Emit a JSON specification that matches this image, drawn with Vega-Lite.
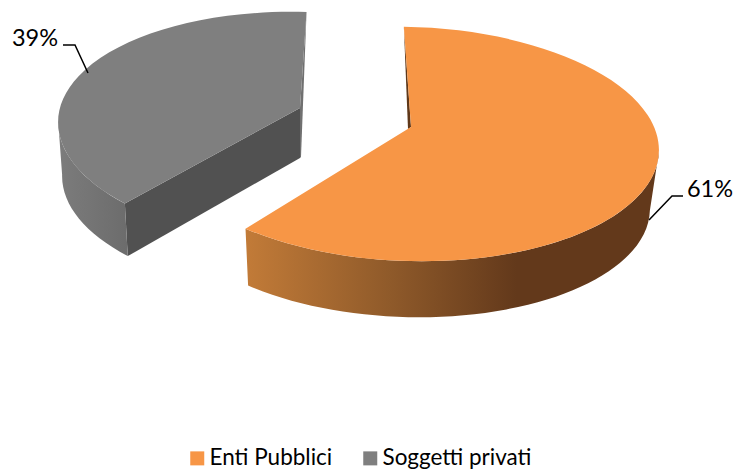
{
"$schema":"https://vega.github.io/schema/vega-lite/v6.json",
"width":736,"height":470,"padding":0,"autosize":{"type":"none"},
"background":"white",
"config":{"view":{"stroke":null}},
"data":{"values":[{"slice":"Enti Pubblici","value":61},{"slice":"Soggetti privati","value":39}]},
"transform":[
{"calculate":"datum.slice==='Enti Pubblici'","as":"o"},
{"calculate":"datum.o?-2:360-datum.value*3.44","as":"a0"},
{"calculate":"datum.o?-2+datum.value*3.64:360","as":"a1"},
{"calculate":"datum.o?90:270","as":"as"},
{"calculate":"datum.o?250:245","as":"rx"},
{"calculate":"datum.o?117:116","as":"ry"},
{"calculate":"datum.o?-2:3","as":"cx"},
{"calculate":"datum.o?17:20","as":"cy"},
{"calculate":"datum.o?243:241","as":"rb"},
{"calculate":"datum.o?114:114","as":"sb"},
{"calculate":"datum.o?-4:3","as":"bx"},
{"calculate":"datum.o?76:74","as":"by"},
{"calculate":"datum.cx+datum.rx*sin(datum.a0*PI/180)*0.9995+datum.ry*cos(datum.a0*PI/180)*0.0305","as":"t0x"},
{"calculate":"datum.cy+datum.rx*sin(datum.a0*PI/180)*0.0305-datum.ry*cos(datum.a0*PI/180)*0.9995","as":"t0y"},
{"calculate":"datum.cx+datum.rx*sin(datum.a1*PI/180)*0.9995+datum.ry*cos(datum.a1*PI/180)*0.0305","as":"t1x"},
{"calculate":"datum.cy+datum.rx*sin(datum.a1*PI/180)*0.0305-datum.ry*cos(datum.a1*PI/180)*0.9995","as":"t1y"},
{"calculate":"datum.cx+datum.rx*sin(datum.as*PI/180)*0.9995+datum.ry*cos(datum.as*PI/180)*0.0305","as":"tsx"},
{"calculate":"datum.cy+datum.rx*sin(datum.as*PI/180)*0.0305-datum.ry*cos(datum.as*PI/180)*0.9995","as":"tsy"},
{"calculate":"datum.bx+datum.rb*sin(datum.a0*PI/180)*0.9995+datum.sb*cos(datum.a0*PI/180)*0.0305","as":"b0x"},
{"calculate":"datum.by+datum.rb*sin(datum.a0*PI/180)*0.0305-datum.sb*cos(datum.a0*PI/180)*0.9995","as":"b0y"},
{"calculate":"datum.bx+datum.rb*sin(datum.a1*PI/180)*0.9995+datum.sb*cos(datum.a1*PI/180)*0.0305","as":"b1x"},
{"calculate":"datum.by+datum.rb*sin(datum.a1*PI/180)*0.0305-datum.sb*cos(datum.a1*PI/180)*0.9995","as":"b1y"},
{"calculate":"datum.bx+datum.rb*sin(datum.as*PI/180)*0.9995+datum.sb*cos(datum.as*PI/180)*0.0305","as":"bsx"},
{"calculate":"datum.by+datum.rb*sin(datum.as*PI/180)*0.0305-datum.sb*cos(datum.as*PI/180)*0.9995","as":"bsy"},
{"calculate":"'M0 0 L'+datum.t0x+' '+datum.t0y+' A'+datum.rx+' '+datum.ry+' 1.75 '+(datum.o?1:0)+' 1 '+datum.t1x+' '+datum.t1y+' Z'","as":"top"},
{"calculate":"datum.o?'M'+datum.tsx+' '+datum.tsy+' A'+datum.rx+' '+datum.ry+' 1.75 0 1 '+datum.t1x+' '+datum.t1y+' L'+datum.b1x+' '+datum.b1y+' A'+datum.rb+' '+datum.sb+' 1.75 0 0 '+datum.bsx+' '+datum.bsy+' Z':'M'+datum.t0x+' '+datum.t0y+' A'+datum.rx+' '+datum.ry+' 1.75 0 1 '+datum.tsx+' '+datum.tsy+' L'+datum.bsx+' '+datum.bsy+' A'+datum.rb+' '+datum.sb+' 1.75 0 0 '+datum.b0x+' '+datum.b0y+' Z'","as":"wall"},
{"calculate":"'M0 0 L'+datum.t0x+' '+datum.t0y+' L'+datum.b0x+' '+datum.b0y+' L0 50 Z'","as":"cut"},
{"calculate":"datum.o?'M'+datum.t0x+' '+datum.t0y+' L-3 2 L0 0 Z':'M'+datum.t1x+' '+datum.t1y+' L1 49 L0 50 L0 0 Z'","as":"sliver"},
{"calculate":"datum.o?'M272 69 L261 69 L238 93':'M-237 -63 L-225 -63 L-212 -35'","as":"leader"},
{"calculate":"datum.value+'%'","as":"label"}
],
"encoding":{
"x":{"field":"slice","type":"nominal","axis":null,"scale":{"type":"point","padding":0,"domain":["Enti Pubblici","Soggetti privati"],"range":[411,300]}},
"y":{"field":"slice","type":"nominal","axis":null,"scale":{"type":"point","padding":0,"domain":["Enti Pubblici","Soggetti privati"],"range":[127,108]}}
},
"layer":[
{"transform":[{"filter":"datum.o"}],"mark":{"type":"point","filled":true,"opacity":1,"fill":"#5f3819","size":4},"encoding":{"shape":{"field":"sliver","type":"nominal","scale":null,"legend":null}}},
{"transform":[{"filter":"!datum.o"}],"mark":{"type":"point","filled":true,"opacity":1,"fill":"#707070","size":4},"encoding":{"shape":{"field":"sliver","type":"nominal","scale":null,"legend":null}}},
{"transform":[{"filter":"!datum.o"}],"mark":{"type":"point","filled":true,"opacity":1,"fill":"#515151","size":4},"encoding":{"shape":{"field":"cut","type":"nominal","scale":null,"legend":null}}},
{"transform":[{"filter":"datum.o"}],"mark":{"type":"point","filled":true,"opacity":1,"size":4,"fill":{"gradient":"linear","x1":0,"y1":0,"x2":1,"y2":0,"stops":[{"offset":0,"color":"#c27b38"},{"offset":0.35,"color":"#8f5a2a"},{"offset":0.655,"color":"#63391b"},{"offset":1,"color":"#63391b"}]}},"encoding":{"shape":{"field":"wall","type":"nominal","scale":null,"legend":null}}},
{"transform":[{"filter":"!datum.o"}],"mark":{"type":"point","filled":true,"opacity":1,"size":4,"fill":{"gradient":"linear","x1":0,"y1":0,"x2":1,"y2":0,"stops":[{"offset":0,"color":"#7c7c7c"},{"offset":1,"color":"#6c6c6c"}]}},"encoding":{"shape":{"field":"wall","type":"nominal","scale":null,"legend":null}}},
{"mark":{"type":"point","filled":true,"opacity":1,"size":4},"encoding":{
"shape":{"field":"top","type":"nominal","scale":null,"legend":null},
"color":{"field":"slice","type":"nominal","scale":{"domain":["Enti Pubblici","Soggetti privati"],"range":["#f79646","#7f7f7f"]},"legend":{"title":null,"orient":"none","legendX":186,"legendY":447,"direction":"horizontal","symbolType":"square","symbolSize":196,"symbolStrokeWidth":0,"labelFont":"Lato","labelFontSize":22.5,"labelColor":"#000000","labelOffset":1,"columnPadding":26}}
}},
{"mark":{"type":"point","filled":false,"opacity":1,"size":4,"stroke":"#000000","strokeWidth":1.5},"encoding":{"shape":{"field":"leader","type":"nominal","scale":null,"legend":null}}},
{"mark":{"type":"text","font":"Lato","fontSize":23.5,"color":"#000000","align":"center","baseline":"alphabetic"},"encoding":{
"x":{"field":"slice","type":"nominal","axis":null,"scale":{"type":"point","padding":0,"domain":["Enti Pubblici","Soggetti privati"],"range":[710,35]}},
"y":{"field":"slice","type":"nominal","axis":null,"scale":{"type":"point","padding":0,"domain":["Enti Pubblici","Soggetti privati"],"range":[197,46]}},
"text":{"field":"label","type":"nominal"}
}}
],
"resolve":{"scale":{"x":"independent","y":"independent"}}
}
